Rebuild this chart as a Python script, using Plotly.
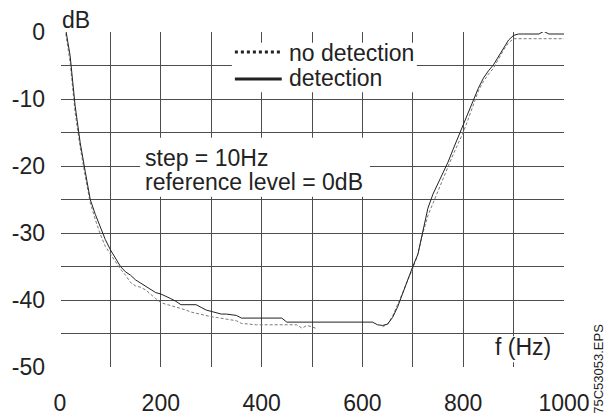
import plotly.graph_objects as go

# frequency axis, 10 Hz step
FREQ = [10 * i for i in range(1, 101)]

# "detection" (solid) response, dB
DET_DB = [
    1.0, -3.5, -11.0, -16.5, -20.8, -25.0, -27.2, -29.0, -31.0, -32.5,
    -33.8, -35.0, -35.8, -36.3, -37.0, -37.5, -38.0, -38.5, -38.9, -39.1,
    -39.4, -39.8, -40.2, -40.7, -40.7, -40.7, -40.7, -41.1, -41.5, -41.7,
    -41.9, -42.1, -42.1, -42.2, -42.3, -42.7, -42.7, -42.7, -42.7, -42.7,
    -42.7, -42.7, -42.7, -42.7, -43.3, -43.3, -43.3, -43.3, -43.3, -43.3,
    -43.3, -43.3, -43.3, -43.3, -43.3, -43.3, -43.3, -43.3, -43.3, -43.3,
    -43.3, -43.3, -43.7, -43.8, -43.6, -42.6, -41.0, -39.0, -36.8, -35.0,
    -33.2, -29.6, -26.3, -24.2, -22.6, -21.1, -19.4, -17.5, -15.7, -13.9,
    -12.0, -10.2, -8.4, -6.9, -5.8, -4.9, -3.6, -2.4, -1.2, -0.5,
    -0.3, -0.3, -0.3, -0.3, -0.3, 0.1, -0.3, -0.3, -0.3, -0.3,
]

# "no detection" (dashed) response, dB; gap where the trace is missing
NODET_DB = [
    0.5, -4.5, -12.0, -17.2, -21.5, -25.5, -28.0, -30.2, -32.0, -33.2,
    -34.2, -35.4, -36.3, -37.4, -37.9, -38.1, -38.5, -39.2, -39.8, -40.4,
    -40.6, -40.8, -41.1, -41.3, -41.5, -41.8, -42.0, -42.2, -42.4, -42.5,
    -42.6, -42.7, -42.8, -42.9, -43.1, -43.5, -43.6, -43.7, -43.7, -43.7,
    -43.7, -43.7, -43.7, -43.7, -43.7, -43.7, -43.7, -44.2, -43.8, -44.0,
    -44.3, None, None, None, None, None, None, None, None, None,
    None, None, None, -44.0, -43.6, -42.4, -40.7, -38.9, -37.0, -35.3,
    -33.2, -30.0, -27.4, -25.5, -23.6, -21.8, -20.1, -18.3, -16.6, -15.0,
    -13.0, -10.9, -8.8, -7.4, -6.3, -5.4, -4.0, -2.7, -1.6, -1.0,
    -1.0, -1.0, -1.0, -1.0, -1.0, -1.0, -1.0, -1.0, -1.0, -1.0,
]

X_TICKS = [0, 200, 400, 600, 800, 1000]
Y_TICKS = [0, -10, -20, -30, -40, -50]

FONT = "Liberation Sans, Arial, sans-serif"
TXT = "#222222"
GRID = "#4d4d4d"

fig = go.Figure()

fig.add_trace(go.Scatter(
    x=FREQ, y=NODET_DB, mode="lines", name="no detection",
    line=dict(color="#7a7a7a", width=1, dash="3px,2px"),
    connectgaps=False, showlegend=False,
))
fig.add_trace(go.Scatter(
    x=FREQ, y=DET_DB, mode="lines", name="detection",
    line=dict(color="#222222", width=1),
    showlegend=False,
))

# white boxes behind the text (they break the grid like the original)
for x0, x1, y0, y1 in [(341, 708, -1.6, -9.0),
                       (159, 615, -15.8, -24.6),
                       (849, 992, -45.4, -49.3)]:
    fig.add_shape(type="rect", x0=x0, x1=x1, y0=y0, y1=y1,
                  fillcolor="white", line=dict(width=0), layer="above")

# legend samples
fig.add_shape(type="line", x0=347, x1=440, y0=-3.0, y1=-3.0,
              line=dict(color="#222222", width=3, dash="dot"), layer="above")
fig.add_shape(type="line", x0=347, x1=440, y0=-7.0, y1=-7.0,
              line=dict(color="#222222", width=3), layer="above")

texts = [
    ("no detection", 450, -3.1),
    ("detection", 450, -6.9),
    ("step = 10Hz", 165, -18.8),
    ("reference level = 0dB", 165, -22.4),
    ("f (Hz)", 860, -47.0),
]
for t, x, y in texts:
    fig.add_annotation(x=x, y=y, text=t, showarrow=False, xanchor="left",
                       yanchor="middle", font=dict(family=FONT, size=23, color=TXT))

fig.add_annotation(xref="paper", yref="paper", x=0, y=1.037, text="dB",
                   showarrow=False, xanchor="left", yanchor="middle",
                   font=dict(family=FONT, size=23, color=TXT))
fig.add_annotation(xref="paper", yref="paper", x=1.067, y=-0.006, text="75C53053.EPS",
                   showarrow=False, textangle=-90, xanchor="center", yanchor="middle",
                   font=dict(family=FONT, size=13, color=TXT))

# page body adds an 8px offset, so the figure is 8px smaller and margins shifted
fig.update_layout(
    width=604, height=412,
    margin=dict(l=52, r=48, t=24, b=53),
    paper_bgcolor="white", plot_bgcolor="white",
    font=dict(family=FONT, size=23, color=TXT),
    xaxis=dict(
        range=[0, 1000], tickvals=X_TICKS, ticktext=[str(v) for v in X_TICKS],
        showgrid=True, gridcolor=GRID, gridwidth=1,
        minor=dict(dtick=100, tick0=0, showgrid=True, gridcolor=GRID, gridwidth=1),
        zeroline=True, zerolinecolor="white", zerolinewidth=2,
        showline=False, ticks="", ticklabelstandoff=20, automargin=False,
    ),
    yaxis=dict(
        range=[-50, 0], tickvals=Y_TICKS, ticktext=[str(v) for v in Y_TICKS],
        showgrid=True, gridcolor=GRID, gridwidth=1,
        minor=dict(dtick=5, tick0=0, showgrid=True, gridcolor=GRID, gridwidth=1),
        zeroline=False, showline=False, ticks="", ticklabelstandoff=14,
        automargin=False,
    ),
    showlegend=False,
)

fig.write_html("out.html")
